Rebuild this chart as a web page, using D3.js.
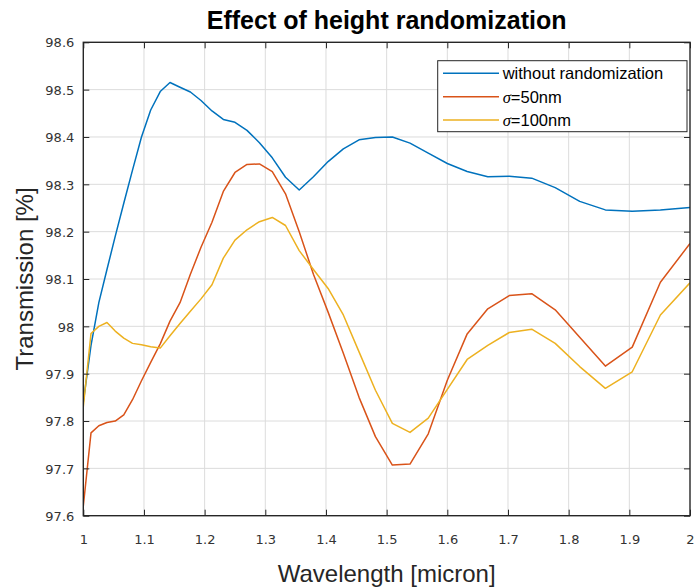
<!DOCTYPE html>
<html><head><meta charset="utf-8">
<script src="https://cdn.jsdelivr.net/npm/d3@7/dist/d3.min.js"></script>
<style>body{margin:0;background:#fff}svg{display:block}</style>
</head><body><svg id="chart" width="694" height="588"></svg>
<script>
// ---- data ----
const wavelength = [1.0000,1.0127,1.0256,1.0390,1.0526,1.0667,1.0811,1.0959,1.1111,1.1268,
  1.1429,1.1594,1.1765,1.1940,1.2121,1.2308,1.2500,1.2698,1.2903,1.3115,
  1.3333,1.3559,1.3793,1.4035,1.4286,1.4545,1.4815,1.5094,1.5385,1.5686,
  1.6000,1.6327,1.6667,1.7021,1.7391,1.7778,1.8182,1.8605,1.9048,1.9512,2.0000];
const withoutRandomization = [97.84,97.96,98.05,98.12,98.19,98.26,98.33,98.40,98.457,98.496,
  98.515,98.505,98.495,98.477,98.455,98.437,98.431,98.414,98.388,98.356,
  98.315,98.288,98.316,98.348,98.375,98.394,98.399,98.400,98.387,98.366,
  98.344,98.327,98.316,98.317,98.313,98.293,98.264,98.246,98.243,98.246,98.251];
const sigma50 = [97.62,97.775,97.79,97.797,97.80,97.813,97.845,97.885,97.924,97.963,
  98.011,98.05,98.11,98.167,98.22,98.285,98.325,98.342,98.343,98.327,
  98.28,98.20,98.11,98.03,97.943,97.85,97.767,97.707,97.709,97.773,
  97.886,97.984,98.037,98.065,98.069,98.035,97.977,97.916,97.956,98.093,98.175];
const sigma100 = [97.83,97.985,98.00,98.008,97.99,97.975,97.964,97.961,97.957,97.954,
  97.98,98.006,98.032,98.058,98.088,98.144,98.182,98.204,98.221,98.23,
  98.213,98.16,98.12,98.08,98.024,97.946,97.865,97.795,97.776,97.806,
  97.867,97.93,97.96,97.987,97.994,97.964,97.915,97.869,97.904,98.024,98.092];
const xTicks = [1,1.1,1.2,1.3,1.4,1.5,1.6,1.7,1.8,1.9,2];
const xTickLabels = ["1","1.1","1.2","1.3","1.4","1.5","1.6","1.7","1.8","1.9","2"];
const yTicks = [97.6,97.7,97.8,97.9,98,98.1,98.2,98.3,98.4,98.5,98.6];
const yTickLabels = ["97.6","97.7","97.8","97.9","98","98.1","98.2","98.3","98.4","98.5","98.6"];
const seriesNames = [["", "without randomization"], ["σ", "=50nm"], ["σ", "=100nm"]];
const titleText = "Effect of height randomization";
const xLabelText = "Wavelength [micron]";
const yLabelText = "Transmission [%]";

// ---- layout ----
const L = 83.3, R = 690, T = 42.3, B = 515.7;
const colors = ["#0072BD", "#D95319", "#EDB120"];
const axisColor = "#262626";
const svg = d3.select("#chart");

const x = d3.scaleLinear().domain([1, 2]).range([L, R]);
const y = d3.scaleLinear().domain([97.6, 98.6]).range([B, T]);

svg.append("rect").attr("x",0).attr("y",0).attr("width",694).attr("height",588).attr("fill","#fff");

// grid
const grid = svg.append("g");
grid.selectAll("line.gx").data(xTicks.slice(1, -1)).join("line")
  .attr("x1", d => x(d)).attr("x2", d => x(d)).attr("y1", T).attr("y2", B)
  .attr("stroke", "#dcdcdc").attr("stroke-width", 1);
grid.selectAll("line.gy").data(yTicks.slice(1, -1)).join("line")
  .attr("y1", d => y(d)).attr("y2", d => y(d)).attr("x1", L).attr("x2", R)
  .attr("stroke", "#dcdcdc").attr("stroke-width", 1);

// series
const series = [withoutRandomization, sigma50, sigma100];
const line = d3.line().x((d, i) => x(wavelength[i])).y(d => y(d));
const clip = svg.append("clipPath").attr("id", "clip").append("rect")
  .attr("x", L).attr("y", T).attr("width", R - L).attr("height", B - T);
series.forEach((s, k) => {
  svg.append("path").datum(s).attr("d", line).attr("fill", "none")
    .attr("stroke", colors[k]).attr("stroke-width", 1.5)
    .attr("stroke-linejoin", "round").attr("clip-path", "url(#clip)");
});

// axes
const tickFont = "'DejaVu Sans', sans-serif";
function styleAxis(g) {
  g.select(".domain").remove();
  g.selectAll(".tick line").attr("stroke", axisColor).attr("stroke-width", 1);
  g.selectAll(".tick text").attr("fill", "#333").attr("font-family", tickFont).attr("font-size", 13);
}
const xAxis = d3.axisBottom(x).tickValues(xTicks).tickSize(-6).tickPadding(0)
  .tickFormat((d, i) => xTickLabels[i]);
const gx = svg.append("g").attr("transform", `translate(0,${B})`).call(xAxis).call(styleAxis);
gx.selectAll(".tick text").attr("y", 28).attr("dy", 0);
const yAxis = d3.axisLeft(y).tickValues(yTicks).tickSize(-6).tickPadding(0)
  .tickFormat((d, i) => yTickLabels[i]);
const gy = svg.append("g").attr("transform", `translate(${L},0)`).call(yAxis).call(styleAxis);
gy.selectAll(".tick text").attr("x", -9).attr("dy", "0.36em");
const xAxisTop = d3.axisTop(x).tickValues(xTicks).tickSize(-6).tickFormat("");
svg.append("g").attr("transform", `translate(0,${T})`).call(xAxisTop).call(styleAxis);
const yAxisRight = d3.axisRight(y).tickValues(yTicks).tickSize(-6).tickFormat("");
svg.append("g").attr("transform", `translate(${R},0)`).call(yAxisRight).call(styleAxis);

// box
svg.append("rect").attr("x", L).attr("y", T).attr("width", R - L).attr("height", B - T)
  .attr("fill", "none").attr("stroke", axisColor).attr("stroke-width", 1.4);

// title and labels
svg.append("text").attr("x", (L + R) / 2).attr("y", 29).attr("text-anchor", "middle")
  .attr("font-family", "'Liberation Sans', Arial, sans-serif").attr("font-weight", "bold")
  .attr("font-size", 25).attr("fill", "#000").text(titleText);
svg.append("text").attr("x", (L + R) / 2).attr("y", 582).attr("text-anchor", "middle")
  .attr("font-family", "'Liberation Sans', Arial, sans-serif").attr("font-size", 24)
  .attr("fill", "#262626").text(xLabelText);
svg.append("text").attr("transform", `translate(33,${(T + B) / 2}) rotate(-90)`)
  .attr("text-anchor", "middle")
  .attr("font-family", "'Liberation Sans', Arial, sans-serif").attr("font-size", 24)
  .attr("fill", "#262626").text(yLabelText);

// legend
const lg = svg.append("g");
lg.append("rect").attr("x", 437.7).attr("y", 60.7).attr("width", 249.3).attr("height", 71)
  .attr("fill", "#fff").attr("stroke", axisColor).attr("stroke-width", 1);
const rowY = [73.3, 96.7, 120];
seriesNames.forEach((nm, k) => {
  lg.append("line").attr("x1", 443).attr("x2", 499).attr("y1", rowY[k]).attr("y2", rowY[k])
    .attr("stroke", colors[k]).attr("stroke-width", 1.5);
  const t = lg.append("text").attr("x", 502.7).attr("y", rowY[k]).attr("dy", "0.36em")
    .attr("font-family", "'Liberation Sans', Arial, sans-serif").attr("font-size", 16.5)
    .attr("fill", "#000");
  if (nm[0]) t.append("tspan").attr("font-family", "'Liberation Serif', serif")
    .attr("font-style", "italic").text(nm[0]);
  t.append("tspan").text(nm[1]);
});
</script></body></html>
